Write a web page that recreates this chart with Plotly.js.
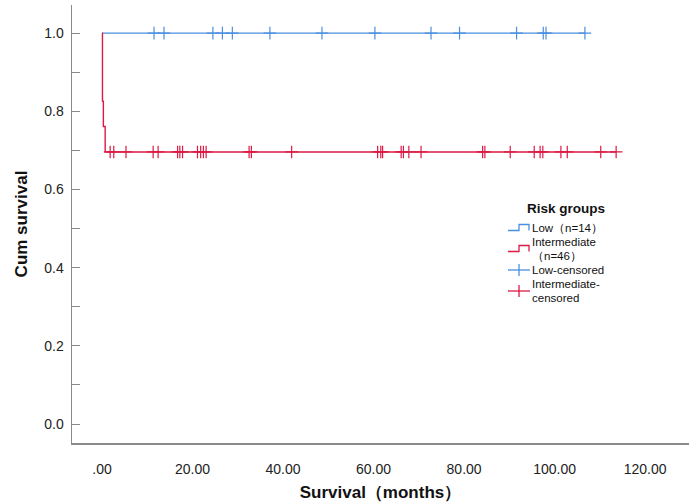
<!DOCTYPE html>
<html>
<head>
<meta charset="utf-8">
<script src="https://cdn.plot.ly/plotly-3.0.1.min.js"></script>
<style>html,body{margin:0;padding:0;background:#fff;}#chart{width:689px;height:502px;}</style>
</head>
<body>
<div id="chart"></div>
<script>
// ---- data ----
var legendTitle = "Risk groups";
var groupNames = ["Low\uFF08n=14\uFF09", "Intermediate\n\uFF08n=46\uFF09"];
var censoredNames = ["Low-censored", "Intermediate-\ncensored"];

// Low risk: no events, all censored (survival stays 1.0)
var lowStepTimes = [0];
var lowStepSurv = [1.0];
var lowCensored = [11.5, 13.7, 24.5, 26.6, 28.8, 37.1, 48.6, 60.3, 72.7, 79.0, 91.6, 97.5, 98.1, 106.7];

// Intermediate risk: early events, then censored
var intStepTimes = [0, 0.1, 0.3, 0.7];
var intStepSurv = [1.0, 0.826, 0.761, 0.696];
var intCensored = [1.8, 2.6, 5.3, 11.3, 12.4, 16.7, 17.2, 17.8, 21.1, 21.8, 22.4, 23.0, 32.5, 33.0, 41.9,
                   60.9, 61.6, 62.0, 66.1, 66.6, 67.8, 70.5, 84.1, 84.6, 90.2, 95.5, 96.8, 97.4, 101.4, 102.8, 110.2, 113.6];

var xTickVals = [0, 20, 40, 60, 80, 100, 120];
var xTickText = [".00", "20.00", "40.00", "60.00", "80.00", "100.00", "120.00"];
var yTickVals = [0, 0.2, 0.4, 0.6, 0.8, 1.0];
var yMinorVals = [0.1, 0.3, 0.5, 0.7, 0.9];

var colors = ["#4a8fe0", "#dc1a45"];

function survivalAt(t, times, surv) {
  var s = surv[0];
  for (var i = 0; i < times.length; i++) { if (times[i] <= t) s = surv[i]; }
  return s;
}
function curve(times, surv, cens) {
  var x = times.slice(), y = surv.slice();
  var last = cens[cens.length - 1];
  x.push(last); y.push(survivalAt(last, times, surv));
  return {x: x, y: y};
}
function censY(cens, times, surv) {
  return cens.map(function (t) { return survivalAt(t, times, surv); });
}

var lowC = curve(lowStepTimes, lowStepSurv, lowCensored);
var intC = curve(intStepTimes, intStepSurv, intCensored);

var font = "Liberation Sans, Arial, sans-serif";

var traces = [
  {x: lowC.x, y: lowC.y, mode: "lines", line: {shape: "hv", color: colors[0], width: 1.4}, name: groupNames[0].replace("\n", " ")},
  {x: intC.x, y: intC.y, mode: "lines", line: {shape: "hv", color: colors[1], width: 1.4}, name: groupNames[1].replace("\n", " ")},
  {x: lowCensored, y: censY(lowCensored, lowStepTimes, lowStepSurv), mode: "markers", name: censoredNames[0],
   marker: {symbol: "cross-thin", size: 9, color: colors[0], line: {color: colors[0], width: 1.2}}},
  {x: intCensored, y: censY(intCensored, intStepTimes, intStepSurv), mode: "markers", name: censoredNames[1].replace("\n", ""),
   marker: {symbol: "cross-thin", size: 9, color: colors[1], line: {color: colors[1], width: 1.2}}}
];

// ---- hand-drawn legend (pixel layout -> paper coords) ----
var M = {l: 72, r: 0, t: 5, b: 59}, W = 689, H = 502;
function px(x) { return (x - M.l) / (W - M.l - M.r); }
function py(y) { return (H - M.b - y) / (H - M.t - M.b); }

var annotations = [], shapes = [];
annotations.push({xref: "paper", yref: "paper", x: px(565.5), y: py(208), xanchor: "center", yanchor: "middle",
  text: "<b>" + legendTitle + "</b>", showarrow: false, font: {family: font, size: 13.5, color: "#111"}});

var itemLabels = [groupNames[0], groupNames[1], censoredNames[0], censoredNames[1]];
var lineTop = 228, lineStep = 14;
var lineIdx = 0, iconY = [];
itemLabels.forEach(function (lab) {
  var parts = lab.split("\n");
  iconY.push(lineTop + lineStep * (lineIdx + (parts.length - 1) / 2));
  parts.forEach(function (part) {
    annotations.push({xref: "paper", yref: "paper", x: px(531), y: py(lineTop + lineStep * lineIdx), xanchor: "left", yanchor: "middle",
      text: part, showarrow: false, borderpad: 0, font: {family: font, size: 11.5, color: "#111"}});
    lineIdx++;
  });
});
// step icons for survival lines, plus icons for censored marks
function stepIcon(yc, c) {
  var yLow = yc + 2.5, yHigh = yc - 3.5;
  return {type: "path", xref: "paper", yref: "paper",
    path: "M" + px(508) + "," + py(yLow) + " L" + px(519) + "," + py(yLow) + " L" + px(519) + "," + py(yHigh) +
          " L" + px(529) + "," + py(yHigh) + " L" + px(529) + "," + py(yLow),
    line: {color: c, width: 1.3}};
}
function plusIcon(yc, c) {
  return [
    {type: "line", xref: "paper", yref: "paper", x0: px(508), x1: px(530), y0: py(yc), y1: py(yc), line: {color: c, width: 1.3}},
    {type: "line", xref: "paper", yref: "paper", x0: px(519), x1: px(519), y0: py(yc - 6), y1: py(yc + 6), line: {color: c, width: 1.3}}
  ];
}
shapes.push(stepIcon(iconY[0], colors[0]));
shapes.push(stepIcon(iconY[1], colors[1]));
shapes = shapes.concat(plusIcon(iconY[2], colors[0]), plusIcon(iconY[3], colors[1]));

var layout = {
  width: W, height: H,
  margin: M,
  paper_bgcolor: "#fff", plot_bgcolor: "#fff",
  font: {family: font, size: 12, color: "#222"},
  showlegend: false,
  annotations: annotations,
  shapes: shapes,
  xaxis: {
    range: [-6.63, 129.7],
    tickmode: "array", tickvals: xTickVals, ticktext: xTickText,
    ticks: "", showgrid: false, zeroline: false,
    showline: true, linecolor: "#8a8a8a", linewidth: 1.5,
    tickfont: {family: font, size: 14, color: "#222"},
    ticklabelstandoff: 13,
    title: {text: "<b>Survival\uFF08months\uFF09</b>", font: {family: font, size: 17, color: "#111"}, standoff: 12}
  },
  yaxis: {
    range: [-0.0486, 1.072],
    tickmode: "array", tickvals: yTickVals,
    tickformat: ".1f",
    ticks: "inside", ticklen: 8, tickcolor: "#8a8a8a", tickwidth: 1,
    minor: {tickvals: yMinorVals, ticks: "inside", ticklen: 8, tickcolor: "#8a8a8a", tickwidth: 1, showgrid: false},
    showgrid: false, zeroline: false,
    showline: true, linecolor: "#8a8a8a", linewidth: 1.5,
    tickfont: {family: font, size: 14, color: "#222"},
    ticklabelstandoff: 4,
    title: {text: "<b>Cum survival</b>", font: {family: font, size: 17, color: "#111"}, standoff: 12}
  }
};

Plotly.newPlot("chart", traces, layout, {displayModeBar: false, staticPlot: true});
</script>
</body>
</html>
